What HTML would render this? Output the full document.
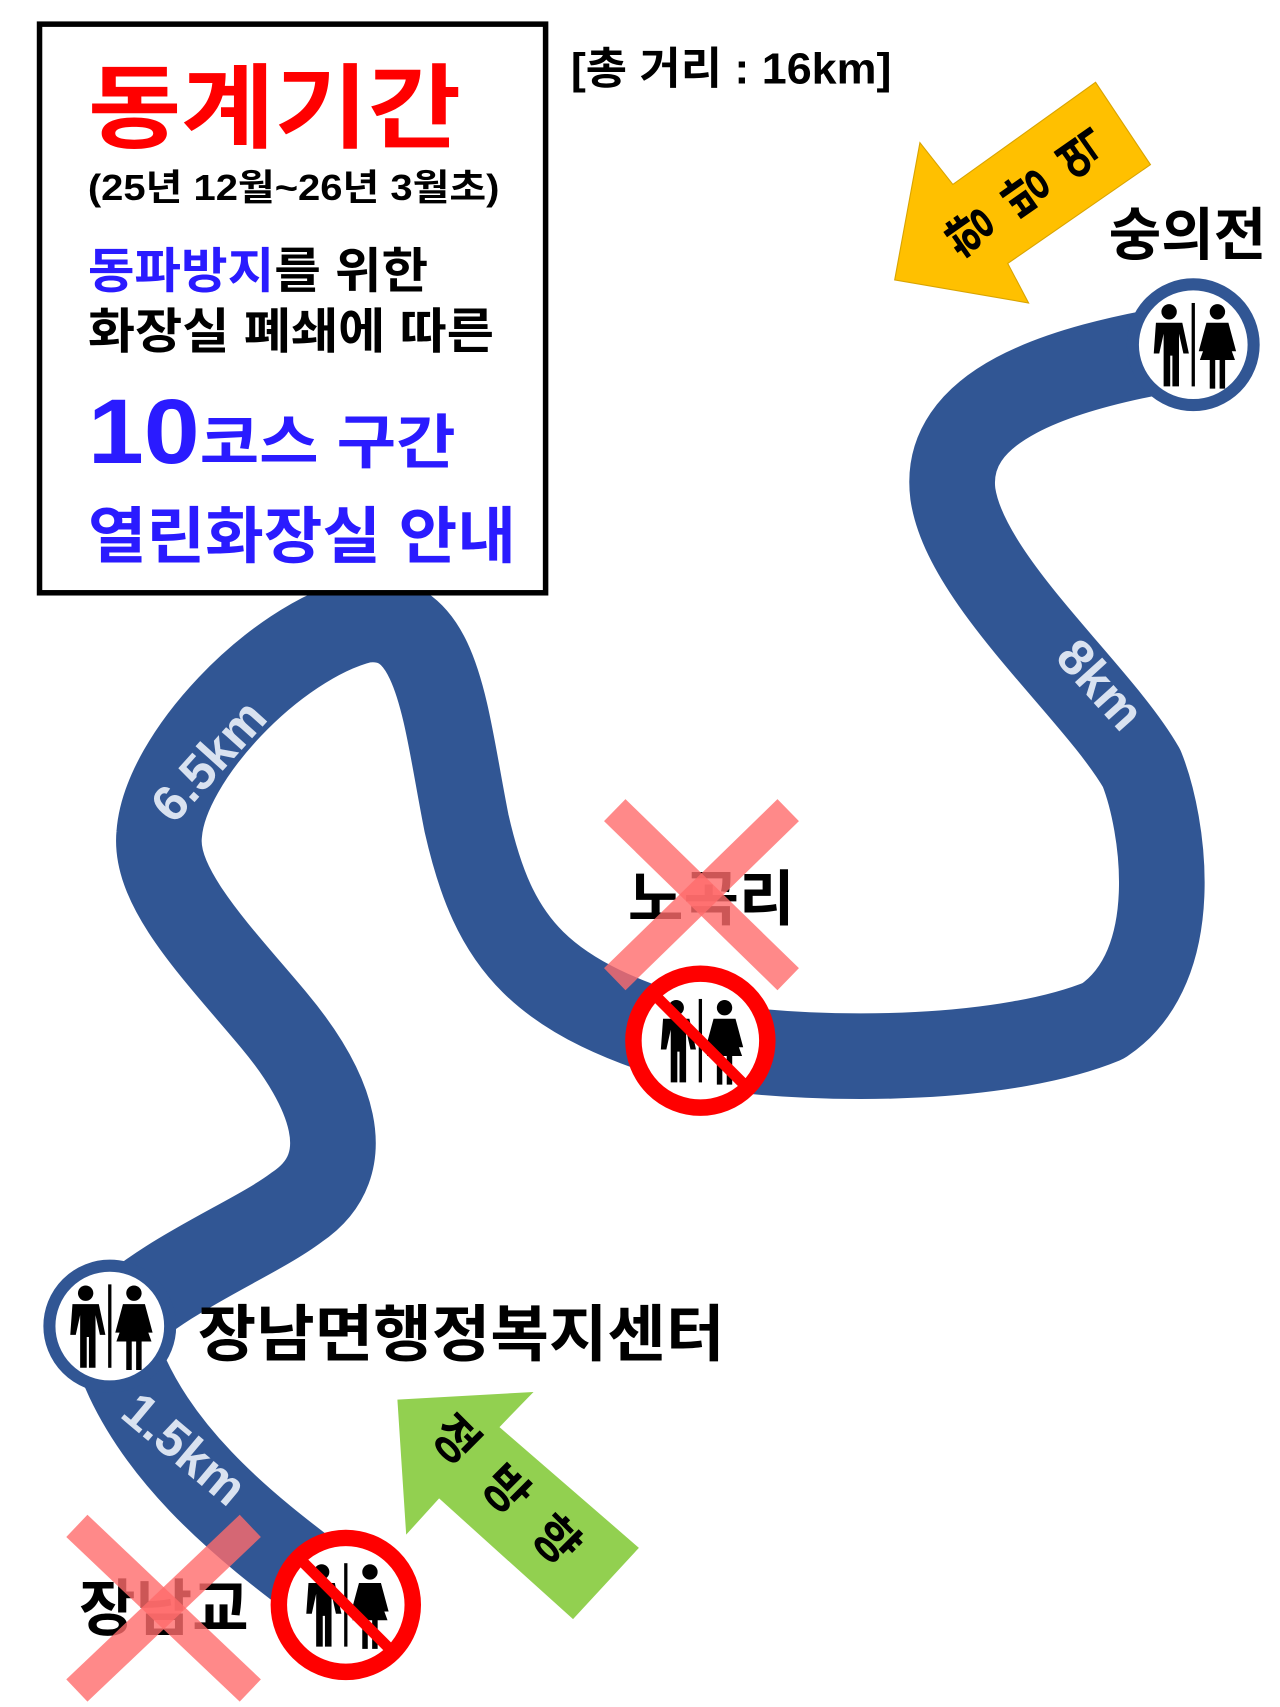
<!DOCTYPE html>
<html><head><meta charset="utf-8"><style>
html,body{margin:0;padding:0;background:#fff;}
svg{display:block;}
text{font-family:"Liberation Sans","Noto Sans CJK KR","NanumGothic",sans-serif;font-weight:bold;}
</style></head><body>
<svg width="1280" height="1707" viewBox="0 0 1166 1555" xmlns="http://www.w3.org/2000/svg">
<defs>
<g id="wc">
  <circle cx="-22" cy="-30" r="7" fill="#000"/>
  <path d="M-34,-20 h24 l6,28 h-5 l-4,-18 v48 h-6 v-28 h-2 v28 h-6 v-48 l-4,18 h-5z" fill="#000"/>
  <rect x="-1.5" y="-38" width="3" height="76" fill="#000"/>
  <circle cx="22" cy="-30" r="7" fill="#000"/>
  <path d="M12,-20 h20 l7,26 h-5 l-4,-14 l8,22 h-9 v26 h-5 v-26 h-4 v26 h-5 v-26 h-9 l8,-22 l-4,14 h-5z" fill="#000"/>
</g>
</defs>
<path d="M315,1460 C250,1410 130,1330 100,1210 C150,1160 230,1130 270,1100 C330,1060 300,990 250,930 C200,870 140,810 145,760 C150,690 250,585 330,565 C400,555 405,650 425,750 C450,860 490,910 640,952 C760,970 920,965 1005,930 C1080,880 1060,750 1040,700 C1000,630 880,530 868,450 C858,370 960,335 1085,315" fill="none" stroke="#315694" stroke-width="78" stroke-linejoin="round"/>
<rect x="36" y="22" width="461" height="518" fill="#fff" stroke="#000" stroke-width="5"/>
<text x="80" y="128" font-size="84" fill="#ff0000" textLength="340" lengthAdjust="spacingAndGlyphs">동계기간</text>
<text x="80" y="182" font-size="33" fill="#000" textLength="375" lengthAdjust="spacingAndGlyphs">(25년 12월~26년 3월초)</text>
<text x="80" y="262" font-size="44" fill="#2a1bff" textLength="310" lengthAdjust="spacingAndGlyphs">동파방지<tspan fill="#000">를 위한</tspan></text>
<text x="80" y="317" font-size="44" fill="#000" textLength="370" lengthAdjust="spacingAndGlyphs">화장실 폐쇄에 따른</text>
<text x="80" y="422" font-size="84" fill="#2a1bff" textLength="335" lengthAdjust="spacingAndGlyphs">10<tspan font-size="54">코스 구간</tspan></text>
<text x="80" y="508" font-size="56" fill="#2a1bff" textLength="390" lengthAdjust="spacingAndGlyphs">열린화장실 안내</text>
<text x="520" y="76" font-size="40" fill="#000" textLength="292" lengthAdjust="spacingAndGlyphs">[총 거리 : 16km]</text>
<text font-size="46" fill="#d9e2f0" transform="translate(158,752) rotate(-48)">6.5km</text>
<text font-size="46" fill="#d9e2f0" transform="translate(960,600) rotate(48)">8km</text>
<text font-size="46" fill="#d9e2f0" transform="translate(108,1290) rotate(40)">1.5km</text>
<polygon points="815,255 838,130 868,168 998,75 1048,150 918,240 937,276" fill="#ffc000" stroke="#d9a400" stroke-width="1"/>
<g transform="translate(935,175) rotate(-35)" font-size="44">
<text transform="translate(-62,0) rotate(-90)" text-anchor="middle" dy="16">향</text>
<text transform="translate(0,0) rotate(-90)" text-anchor="middle" dy="16">방</text>
<text transform="translate(62,0) rotate(-90)" text-anchor="middle" dy="16">역</text>
</g>
<polygon points="362,1275 486,1268 455,1300 582,1410 522,1475 400,1365 370,1398" fill="#92d050"/>
<text font-size="44" fill="#000" text-anchor="middle" transform="translate(452,1370) rotate(45)" letter-spacing="6">정 방 향</text>
<text x="1010" y="232" font-size="52" fill="#000">숭의전</text>
<text x="572" y="838" font-size="55" fill="#000">노곡리</text>
<text x="180" y="1235" font-size="56" fill="#000" textLength="480" lengthAdjust="spacingAndGlyphs">장남면행정복지센터</text>
<text x="72" y="1485" font-size="56" fill="#000">장남교</text>
<g stroke="#ff6b6b" stroke-opacity="0.8" stroke-width="28">
<line x1="560" y1="738" x2="718" y2="892"/><line x1="718" y1="738" x2="560" y2="892"/>
<line x1="70" y1="1390" x2="228" y2="1540"/><line x1="228" y1="1390" x2="70" y2="1540"/>
</g>
<circle cx="1087" cy="314" r="55" fill="#fff" stroke="#315694" stroke-width="11"/>
<use href="#wc" transform="translate(1087,314)"/>
<circle cx="100" cy="1208" r="55" fill="#fff" stroke="#315694" stroke-width="11"/>
<use href="#wc" transform="translate(100,1208)"/>
<g transform="translate(638,948)">
<circle r="61" fill="#fff" stroke="#ff0000" stroke-width="15"/>
<use href="#wc"/>
<line x1="-40" y1="-40" x2="40" y2="40" stroke="#ff0000" stroke-width="10"/>
</g>
<g transform="translate(315,1462)">
<circle r="61" fill="#fff" stroke="#ff0000" stroke-width="15"/>
<use href="#wc"/>
<line x1="-40" y1="-40" x2="40" y2="40" stroke="#ff0000" stroke-width="10"/>
</g>
</svg>
</body></html>
